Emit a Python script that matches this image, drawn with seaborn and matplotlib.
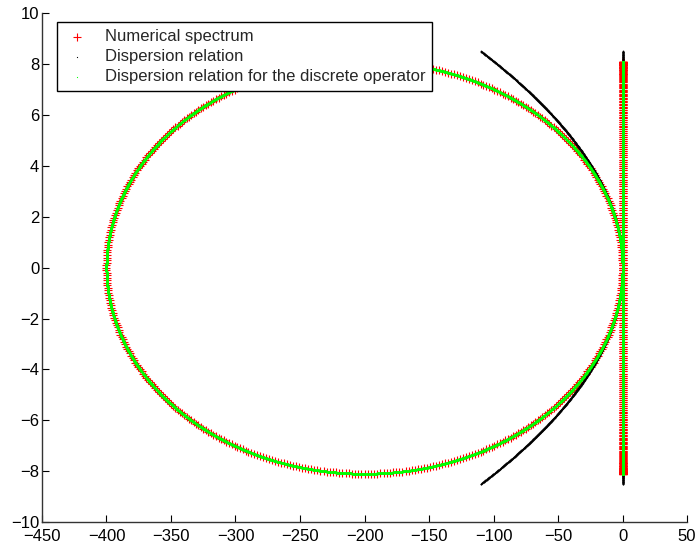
import numpy as np
import pandas as pd
import matplotlib
matplotlib.use("Agg")
import matplotlib.pyplot as plt
import seaborn as sns

# values
n_modes = 512                      # eigenvalues along the ellipse
ellipse_center = -200.0            # real-axis centre of the ellipse
ellipse_halfwidth = 200.0          # real semi-axis
ellipse_halfheight = 8.1           # imaginary semi-axis
parabola_curv = 1.52               # Re = -curv * Im^2 for the continuous relation
cont_imag_max = 8.5                # extent of continuous dispersion relation
x_ticks = [-450, -400, -350, -300, -250, -200, -150, -100, -50, 0, 50]
y_ticks = [-10, -8, -6, -4, -2, 0, 2, 4, 6, 8, 10]
labels = ["Numerical spectrum", "Dispersion relation",
          "Dispersion relation for the discrete operator"]

theta = 2 * np.pi * np.arange(n_modes) / n_modes
num_x = np.concatenate([ellipse_center + ellipse_halfwidth * np.cos(theta), np.zeros(n_modes)])
num_y = np.concatenate([ellipse_halfheight * np.sin(theta), ellipse_halfheight * np.sin(theta)])

xi = np.linspace(-cont_imag_max, cont_imag_max, 1500)
cont_x = np.concatenate([-parabola_curv * xi ** 2, np.zeros_like(xi)])
cont_y = np.concatenate([xi, xi])

th2 = np.linspace(0, 2 * np.pi, 3000)
disc_x = np.concatenate([ellipse_center + ellipse_halfwidth * np.cos(th2), np.zeros_like(th2)])
disc_y = np.concatenate([ellipse_halfheight * np.sin(th2), ellipse_halfheight * np.sin(th2)])

sns.set_style("white")
plt.rcParams["font.family"] = ["Liberation Sans", "DejaVu Sans"]

fig = plt.figure(figsize=(6.99, 5.49), dpi=100)
ax = fig.add_axes([0.060, 0.049, 0.923, 0.927])

sns.scatterplot(x=num_x, y=num_y, marker="+", color="red", s=30, linewidth=0.8,
                ax=ax, label=labels[0], zorder=2)
sns.scatterplot(x=cont_x, y=cont_y, marker=".", color="black", s=7, linewidth=0,
                ax=ax, label=labels[1], zorder=3)
sns.scatterplot(x=disc_x, y=disc_y, marker=".", color="#00ff00", s=12, linewidth=0,
                ax=ax, label=labels[2], zorder=4)

ax.set_xlim(-450, 50)
ax.set_ylim(-10, 10)
ax.set_xticks(x_ticks)
ax.set_yticks(y_ticks)
ax.tick_params(direction="in", length=5, width=0.8, labelsize=12, colors="black",
               bottom=True, left=True)
ax.tick_params(axis="x", pad=5)
ax.tick_params(axis="y", pad=2)
for s in ["top", "right"]:
    ax.spines[s].set_visible(False)
for s in ["left", "bottom"]:
    ax.spines[s].set_color("#333333")
    ax.spines[s].set_linewidth(1.0)

leg = ax.legend(loc="upper left", bbox_to_anchor=(0.023, 0.982), borderaxespad=0,
                fancybox=False, frameon=True, fontsize=12, handletextpad=0.9,
                labelspacing=0.3, borderpad=0.4, markerscale=1.0, handlelength=1.6)
leg.get_frame().set_edgecolor("black")
leg.get_frame().set_linewidth(1.0)
leg.get_frame().set_alpha(1)
sizes = [30, 3, 3]
for h, sz in zip(leg.legend_handles, sizes):
    try:
        h.set_sizes([sz])
    except Exception:
        pass

fig.savefig("out.png", dpi=100)
